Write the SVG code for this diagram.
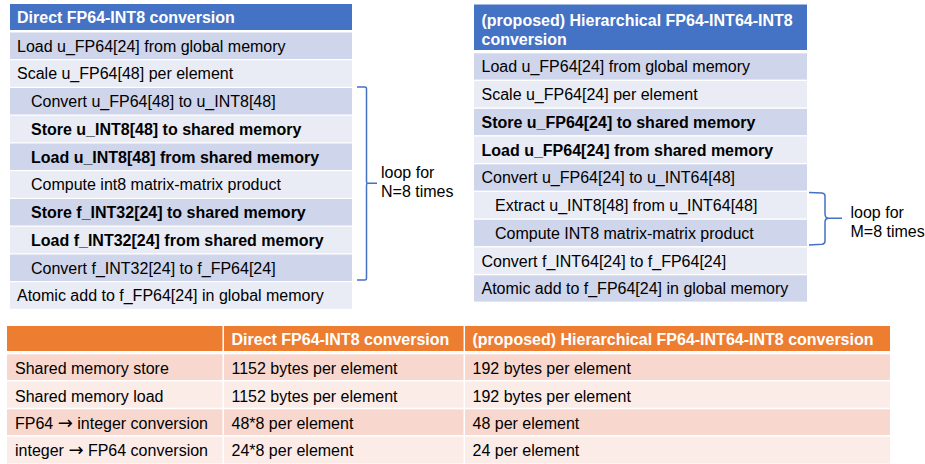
<svg xmlns="http://www.w3.org/2000/svg" width="925" height="464" viewBox="0 0 925 464">
<style>
text{font-family:"Liberation Sans",Arial,sans-serif;font-size:16px;fill:#000}
.ar{font-family:"DejaVu Sans",sans-serif;font-size:18px}
.hb{fill:#4472C4}
.hd{fill:#CFD5EA}
.hl{fill:#E9EBF5}
.ho{fill:#ED7D31}
.od{fill:#F8D8CE}
.ol{fill:#FBECE8}
.ht{fill:#fff;font-weight:bold}
.b{font-weight:bold}
.br{fill:none;stroke:#4472C4;stroke-width:1.5}
.sep{stroke:#fff;stroke-width:1.5}
</style>
<rect width="925" height="464" fill="#fff"/>
<g id="left-table">
<rect class="hb" x="10" y="4" width="342" height="26"/>
<text class="ht" x="17" y="23">Direct FP64-INT8 conversion</text>
<rect class="hd" x="10" y="32.5" width="342" height="26.5"/>
<text x="17" y="51.5">Load u_FP64[24] from global memory</text>
<rect class="hl" x="10" y="60.25" width="342" height="26.5"/>
<text x="17" y="79.25">Scale u_FP64[48] per element</text>
<rect class="hd" x="10" y="88" width="342" height="26.5"/>
<text x="31" y="107">Convert u_FP64[48] to u_INT8[48]</text>
<rect class="hl" x="10" y="115.75" width="342" height="26.5"/>
<text class="b" x="31" y="134.75">Store u_INT8[48] to shared memory</text>
<rect class="hd" x="10" y="143.5" width="342" height="26.5"/>
<text class="b" x="31" y="162.5">Load u_INT8[48] from shared memory</text>
<rect class="hl" x="10" y="171.25" width="342" height="26.5"/>
<text x="31" y="190.25">Compute int8 matrix-matrix product</text>
<rect class="hd" x="10" y="199" width="342" height="26.5"/>
<text class="b" x="31" y="218">Store f_INT32[24] to shared memory</text>
<rect class="hl" x="10" y="226.75" width="342" height="26.5"/>
<text class="b" x="31" y="245.75">Load f_INT32[24] from shared memory</text>
<rect class="hd" x="10" y="254.5" width="342" height="26.5"/>
<text x="31" y="273.5">Convert f_INT32[24] to f_FP64[24]</text>
<rect class="hl" x="10" y="282.25" width="342" height="26.5"/>
<text x="17" y="301.25">Atomic add to f_FP64[24] in global memory</text>
</g>
<g id="left-loop">
<text x="381" y="178">loop for</text>
<text x="381" y="197">N=8 times</text>
</g>
<g id="right-table">
<rect class="hb" x="474" y="4.5" width="333" height="45.5"/>
<text class="ht" x="481.5" y="26">(proposed) Hierarchical FP64-INT64-INT8</text>
<text class="ht" x="481.5" y="44.5">conversion</text>
<rect class="hd" x="474" y="53.3" width="333" height="26.3"/>
<text x="481.5" y="72.3">Load u_FP64[24] from global memory</text>
<rect class="hl" x="474" y="81.05" width="333" height="26.3"/>
<text x="481.5" y="100.05">Scale u_FP64[24] per element</text>
<rect class="hd" x="474" y="108.8" width="333" height="26.3"/>
<text class="b" x="481.5" y="127.8">Store u_FP64[24] to shared memory</text>
<rect class="hl" x="474" y="136.55" width="333" height="26.3"/>
<text class="b" x="481.5" y="155.55">Load u_FP64[24] from shared memory</text>
<rect class="hd" x="474" y="164.3" width="333" height="26.3"/>
<text x="481.5" y="183.3">Convert u_FP64[24] to u_INT64[48]</text>
<rect class="hl" x="474" y="192.05" width="333" height="26.3"/>
<text x="495" y="211.05">Extract u_INT8[48] from u_INT64[48]</text>
<rect class="hd" x="474" y="219.8" width="333" height="26.3"/>
<text x="495" y="238.8">Compute INT8 matrix-matrix product</text>
<rect class="hl" x="474" y="247.55" width="333" height="26.3"/>
<text x="481.5" y="266.55">Convert f_INT64[24] to f_FP64[24]</text>
<rect class="hd" x="474" y="275.3" width="333" height="26.3"/>
<text x="481.5" y="294.3">Atomic add to f_FP64[24] in global memory</text>
</g>
<g id="right-loop">
<text x="850.5" y="218">loop for</text>
<text x="850.5" y="237">M=8 times</text>
</g>
<g id="connectors">
<path class="br" d="M357,87 L365,87 Q366.5,87 366.5,89 L366.5,182 Q366.5,183.3 368,183.3 L377,183.3 M368,183.3 Q366.5,183.3 366.5,185 L366.5,278 Q366.5,280 365,280 L357,280"/>
<path class="br" d="M809,192.5 L822,193 Q825,193.5 825,196 L825,214 Q825,218.3 829,218.3 L842,218.3 M829,218.3 Q825,218.3 825,222 L825,241 Q825,244 822,244.3 L809,245"/>
</g>
<g id="bottom-table">
<rect class="ho" x="7" y="326" width="883" height="25"/>
<rect class="od" x="7" y="354.3" width="883" height="25.7"/>
<rect class="ol" x="7" y="381.5" width="883" height="26.2"/>
<rect class="od" x="7" y="409.3" width="883" height="25.7"/>
<rect class="ol" x="7" y="436.7" width="883" height="26.8"/>
<line class="sep" x1="223.2" y1="326" x2="223.2" y2="464"/>
<line class="sep" x1="464.3" y1="326" x2="464.3" y2="464"/>
<text class="ht" x="231.5" y="345">Direct FP64-INT8 conversion</text>
<text class="ht" x="472.5" y="345">(proposed) Hierarchical FP64-INT64-INT8 conversion</text>
<text x="15" y="373.5">Shared memory store</text>
<text x="231.5" y="373.5">1152 bytes per element</text>
<text x="472.5" y="373.5">192 bytes per element</text>
<text x="15" y="401.5">Shared memory load</text>
<text x="231.5" y="401.5">1152 bytes per element</text>
<text x="472.5" y="401.5">192 bytes per element</text>
<text x="15" y="428.5">FP64 <tspan class="ar">→</tspan> integer conversion</text>
<text x="231.5" y="428.5">48*8 per element</text>
<text x="472.5" y="428.5">48 per element</text>
<text x="15" y="456">integer <tspan class="ar">→</tspan> FP64 conversion</text>
<text x="231.5" y="456">24*8 per element</text>
<text x="472.5" y="456">24 per element</text>
</g>
</svg>
